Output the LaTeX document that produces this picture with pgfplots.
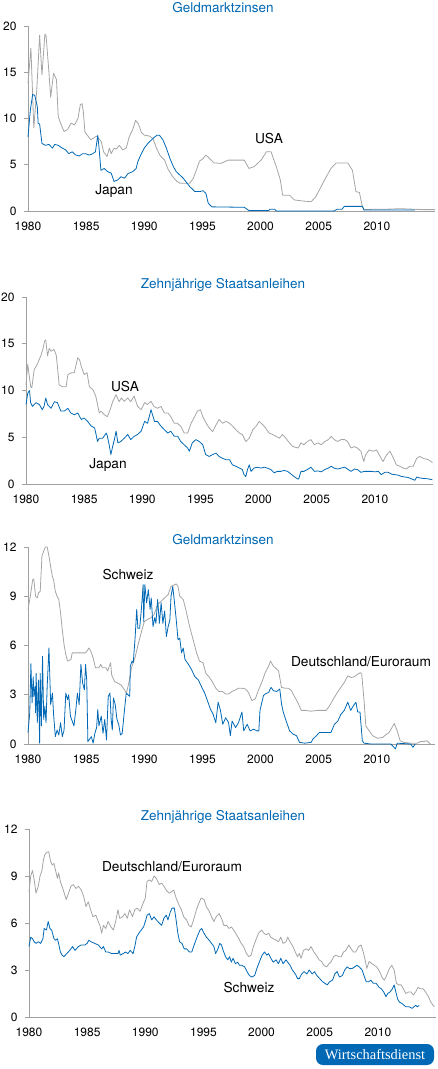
\documentclass[border=0pt]{standalone}
\usepackage{pgfplots}
\pgfplotsset{compat=1.18}
\usepackage{fontspec}
\setmainfont{TeX Gyre Heros}
\newfontfamily\logofont{Liberation Serif}
\definecolor{wdblue}{RGB}{0,104,180}
\definecolor{lgray}{RGB}{165,165,165}
\definecolor{axgray}{RGB}{160,160,160}
\pgfplotsset{panel/.style={
  scale only axis, width=407pt, xmin=1980, xmax=2015,
  axis lines=left, axis line style={-, draw=axgray, line width=0.7pt},
  xtick={1980,1985,...,2010},
  xticklabel style={/pgf/number format/1000 sep=, yshift=-3pt},
  yticklabel style={xshift=-4pt},
  tick label style={font=\fontsize{12}{13}\selectfont, text=black},
  xtick style={draw=none}, ytick style={draw=axgray, line width=0.7pt},
  tick align=outside, major tick length=4pt,
  clip=false, /pgf/number format/assume math mode=true,
  every axis plot/.append style={line width=0.8pt, line join=round}
}}
\tikzset{lbl/.style={font=\fontsize{13.7}{15}\selectfont, text=black},
  ttl/.style={font=\fontsize{13.5}{15}\selectfont, text=wdblue}}
\begin{document}
\begin{tikzpicture}
\path[use as bounding box] (0pt,0pt) rectangle (438pt,-1069pt);
% ---------------- Panel 1
\node[ttl] at (223pt,-8pt) {Geldmarktzinsen};
\begin{axis}[panel, at={(28pt,-211pt)}, anchor=south west, height=185pt,
  ymin=0, ymax=20, ytick={0,5,10,15,20}]
\addplot[lgray] coordinates {(1980.0,13.8)(1980.25,17.6)(1980.5,9.0)(1980.75,13)(1981.0,19.0)(1981.2,14.7)(1981.45,19.1)(1981.55,19.0)(1981.8,15)(1981.95,12.3)(1982.2,14.9)(1982.45,14.2)(1982.6,10.2)(1982.8,9.5)(1983.1,8.6)(1983.4,8.8)(1983.7,9.5)(1984.0,9.3)(1984.3,10.0)(1984.5,11.5)(1984.65,11.6)(1984.75,10.8)(1984.9,8.5)(1985.1,8.2)(1985.4,7.7)(1985.9,8.1)(1986.3,7.5)(1986.5,6.4)(1986.8,5.9)(1987.0,6.8)(1987.15,6.2)(1987.4,6.8)(1987.6,6.7)(1987.85,7.1)(1988.15,6.6)(1988.45,6.8)(1988.7,8.0)(1989.0,8.8)(1989.25,9.8)(1989.5,9.4)(1989.75,8.5)(1990.0,8.2)(1990.45,8.1)(1990.75,7.8)(1991.05,6.8)(1991.35,6.0)(1991.75,5.5)(1992.05,4.5)(1992.3,4.0)(1992.45,3.7)(1992.8,3.2)(1993.1,3.0)(1993.5,3.0)(1993.9,3.0)(1994.2,3.5)(1994.5,4.5)(1994.75,5.4)(1995.0,5.6)(1995.3,6.05)(1996.0,5.2)(1996.6,5.15)(1997.2,5.5)(1997.75,5.5)(1998.6,5.5)(1999.0,4.6)(1999.45,4.8)(2000.05,5.5)(2000.5,6.4)(2000.9,6.4)(2001.35,4.8)(2001.7,3.35)(2001.9,1.7)(2002.5,1.7)(2002.9,1.2)(2003.5,1.1)(2004.35,1.0)(2004.75,1.55)(2005.5,3.35)(2006.05,4.6)(2006.5,5.2)(2007.5,5.2)(2007.9,4.4)(2008.2,2.1)(2008.5,2.0)(2008.75,0.5)(2008.9,0.15)(2010,0.2)(2011,0.2)(2012,0.25)(2013,0.2)(2014,0.15)(2015,0.15)};
\addplot[wdblue] coordinates {(1980.0,8.0)(1980.2,10.9)(1980.4,12.6)(1980.58,12.5)(1980.8,11.3)(1980.87,9.5)(1981.0,9.4)(1981.2,7.3)(1981.5,7.1)(1981.8,7.2)(1982.1,6.8)(1982.3,7.2)(1982.6,7.1)(1982.95,6.8)(1983.25,6.6)(1983.5,6.2)(1983.8,6.4)(1984.1,6.05)(1984.4,5.95)(1984.7,6.2)(1984.95,6.2)(1985.25,6.05)(1985.5,6.15)(1985.8,6.4)(1986.0,8.2)(1986.1,6.95)(1986.27,4.4)(1986.55,4.6)(1986.85,4.25)(1987.15,4.1)(1987.4,3.2)(1987.7,3.35)(1988.0,3.7)(1988.3,3.55)(1988.6,4.05)(1989.0,4.25)(1989.3,4.6)(1989.45,5.35)(1989.75,6.2)(1990.0,6.8)(1990.3,7.3)(1990.75,7.85)(1991.1,8.2)(1991.3,8.2)(1991.6,7.7)(1991.9,6.8)(1992.2,5.7)(1992.5,4.8)(1992.75,4.25)(1993.05,3.9)(1993.35,3.55)(1993.65,3.05)(1993.9,2.65)(1994.35,2.1)(1994.8,2.1)(1995.05,2.2)(1995.3,1.9)(1995.5,0.85)(1995.8,0.45)(1998.6,0.4)(1999.0,0.05)(2000.7,0.05)(2000.8,0.2)(2001.2,0.2)(2001.35,0.0)(2006.3,0.0)(2006.6,0.2)(2007.0,0.2)(2007.2,0.5)(2008.75,0.5)(2008.9,0.1)(2013.3,0.1)};
\end{axis}
\node[lbl] at (269pt,-139pt) {USA};
\node[lbl] at (114pt,-191pt) {Japan};
% ---------------- Panel 2
\node[ttl] at (223pt,-285pt) {Zehnjährige Staatsanleihen};
\begin{axis}[panel, at={(26pt,-484pt)}, anchor=south west, height=187pt,
  ymin=0, ymax=20, ytick={0,5,10,15,20}]
\addplot[lgray] coordinates {(1980.0,10.6)(1980.15,12.8)(1980.4,10.4)(1980.5,10.3)(1980.7,12.2)(1981.0,12.9)(1981.3,13.8)(1981.45,14.4)(1981.6,15.3)(1981.7,15.4)(1981.85,13.7)(1982.0,14.5)(1982.15,14.2)(1982.4,14.4)(1982.6,13.8)(1982.7,12.6)(1982.85,10.6)(1983.15,10.4)(1983.45,10.4)(1983.6,11.7)(1983.9,11.9)(1984.15,11.9)(1984.45,13.5)(1984.6,13.3)(1984.75,12.6)(1985.0,11.7)(1985.25,11.9)(1985.45,10.4)(1985.75,10.1)(1986.0,9.4)(1986.3,7.6)(1986.45,7.8)(1986.75,7.4)(1987.0,7.2)(1987.25,8.0)(1987.45,8.8)(1987.75,9.55)(1988.0,8.8)(1988.2,9.2)(1988.45,8.85)(1988.75,9.2)(1989.0,8.8)(1989.3,9.4)(1989.6,8.3)(1989.9,7.95)(1990.2,8.7)(1990.45,8.5)(1990.75,8.85)(1991.0,8.3)(1991.3,8.1)(1991.6,8.3)(1991.9,7.6)(1992.2,7.6)(1992.45,7.2)(1992.75,6.5)(1993.0,6.5)(1993.3,6.2)(1993.6,5.45)(1993.9,5.45)(1994.2,6.5)(1994.5,7.2)(1994.75,7.8)(1995.0,7.95)(1995.2,7.2)(1995.5,6.5)(1995.75,6.0)(1996.05,5.6)(1996.35,6.35)(1996.6,6.9)(1996.9,6.5)(1997.2,6.7)(1997.5,6.5)(1997.75,6.2)(1998.05,5.8)(1998.35,5.45)(1998.6,5.3)(1998.9,4.55)(1999.2,4.9)(1999.5,5.8)(1999.8,6.2)(2000.05,6.7)(2000.35,6.35)(2000.6,6.0)(2000.9,5.45)(2001.2,5.3)(2001.5,5.1)(2001.8,4.9)(2002.05,5.3)(2002.35,4.9)(2002.65,4.4)(2002.95,4.0)(2003.4,3.85)(2003.65,4.4)(2003.9,4.2)(2004.2,4.55)(2004.5,4.75)(2004.8,4.2)(2005.1,4.4)(2005.4,4.2)(2005.7,4.55)(2006.0,4.75)(2006.25,5.1)(2006.5,4.75)(2006.8,4.55)(2007.1,4.75)(2007.4,4.75)(2007.65,4.55)(2007.95,3.85)(2008.25,4.0)(2008.5,3.85)(2008.8,3.5)(2009.05,2.4)(2009.2,3.1)(2009.5,3.65)(2009.85,3.5)(2010.15,3.65)(2010.45,2.95)(2010.7,2.4)(2011.0,3.1)(2011.3,3.5)(2011.6,2.75)(2011.85,2.05)(2012.15,1.9)(2012.45,1.7)(2012.7,1.6)(2013.0,1.9)(2013.3,1.9)(2013.6,2.75)(2013.85,2.95)(2014.15,2.75)(2014.6,2.6)(2014.95,2.3)};
\addplot[wdblue] coordinates {(1980.0,8.5)(1980.15,9.7)(1980.3,10.0)(1980.4,8.7)(1980.55,8.3)(1980.85,8.7)(1981.15,8.5)(1981.4,7.95)(1981.55,8.3)(1981.7,9.2)(1981.85,8.5)(1982.15,8.1)(1982.45,8.8)(1982.7,8.7)(1983.0,7.8)(1983.3,7.8)(1983.6,8.1)(1983.85,7.6)(1984.15,7.4)(1984.45,7.6)(1984.75,6.9)(1985.0,7.05)(1985.3,6.7)(1985.6,6.2)(1985.9,6.0)(1986.0,5.45)(1986.15,4.55)(1986.3,4.9)(1986.6,4.9)(1986.9,5.45)(1987.0,5.1)(1987.15,4.2)(1987.3,3.15)(1987.45,4.0)(1987.6,4.75)(1987.75,5.65)(1987.9,4.4)(1988.15,4.55)(1988.45,4.9)(1988.75,5.3)(1989.0,4.75)(1989.3,5.1)(1989.6,5.3)(1989.9,5.65)(1990.2,6.7)(1990.45,6.5)(1990.6,7.2)(1990.75,7.95)(1991.05,6.7)(1991.3,6.7)(1991.6,6.2)(1991.9,5.8)(1992.2,5.45)(1992.45,5.65)(1992.75,5.1)(1993.05,5.1)(1993.3,4.55)(1993.6,4.2)(1993.9,3.85)(1994.05,3.5)(1994.3,4.4)(1994.6,4.75)(1994.9,4.55)(1995.2,4.2)(1995.45,3.15)(1995.75,2.95)(1996.05,3.15)(1996.35,3.3)(1996.6,2.95)(1996.9,2.75)(1997.2,2.6)(1997.5,2.6)(1997.75,2.05)(1998.05,1.9)(1998.35,1.7)(1998.6,1.55)(1998.75,1.0)(1998.9,0.8)(1999.05,1.55)(1999.2,2.05)(1999.35,1.35)(1999.6,1.7)(1999.9,1.8)(2000.2,1.7)(2000.5,1.8)(2000.75,1.7)(2001.05,1.55)(2001.35,1.2)(2001.6,1.35)(2001.9,1.35)(2002.2,1.45)(2002.5,1.35)(2002.75,1.1)(2003.05,0.8)(2003.35,0.55)(2003.45,0.55)(2003.65,1.35)(2003.9,1.35)(2004.2,1.55)(2004.5,1.8)(2004.8,1.35)(2005.1,1.4)(2005.4,1.3)(2005.7,1.55)(2006.0,1.7)(2006.25,1.9)(2006.5,1.7)(2006.8,1.6)(2007.1,1.7)(2007.4,1.8)(2007.65,1.6)(2007.95,1.35)(2008.25,1.6)(2008.5,1.55)(2008.8,1.25)(2009.1,1.35)(2009.4,1.35)(2009.7,1.35)(2010.0,1.3)(2010.3,1.35)(2010.55,1.0)(2010.85,1.25)(2011.15,1.25)(2011.45,1.05)(2011.7,1.0)(2012.0,0.95)(2012.3,0.8)(2012.6,0.75)(2012.85,0.7)(2013.15,0.55)(2013.45,0.4)(2013.6,0.75)(2013.85,0.65)(2014.15,0.6)(2014.6,0.55)(2014.95,0.45)};
\end{axis}
\node[lbl] at (125pt,-386pt) {USA};
\node[lbl] at (108pt,-465pt) {Japan};
% ---------------- Panel 3
\node[ttl] at (223pt,-540pt) {Geldmarktzinsen};
\begin{axis}[panel, at={(28pt,-744pt)}, anchor=south west, height=197pt,
  ymin=0, ymax=12, ytick={0,3,6,9,12}]
\addplot[lgray] coordinates {(1980.0,8.2)(1980.2,9.0)(1980.4,10.0)(1980.5,10.05)(1980.65,9.0)(1980.8,8.9)(1980.9,9.2)(1981.05,9.3)(1981.2,11.45)(1981.35,11.75)(1981.5,12.0)(1981.65,12.0)(1981.8,11.45)(1981.95,10.8)(1982.1,10.2)(1982.2,10.0)(1982.35,9.3)(1982.5,9.0)(1982.65,8.8)(1982.8,8.0)(1982.95,6.95)(1983.1,6.05)(1983.25,5.45)(1983.4,5.05)(1983.7,5.15)(1983.8,5.55)(1984.25,5.55)(1984.7,5.55)(1984.95,5.55)(1985.25,5.85)(1985.4,5.65)(1985.6,5.25)(1985.8,4.65)(1986.1,4.65)(1986.25,4.85)(1986.4,4.65)(1986.7,4.65)(1986.85,4.45)(1987.1,4.95)(1987.2,4.2)(1987.45,3.8)(1987.75,3.7)(1988.0,3.6)(1988.3,3.3)(1988.45,3.1)(1988.6,3.5)(1988.75,4.0)(1988.9,4.65)(1989.2,5.25)(1989.5,6.15)(1989.8,6.95)(1990.0,7.45)(1990.3,7.6)(1990.6,7.7)(1990.85,7.9)(1991.15,8.5)(1991.45,8.7)(1991.75,8.9)(1992.05,9.1)(1992.3,9.6)(1992.6,9.7)(1992.75,9.75)(1992.9,9.6)(1993.05,9.0)(1993.35,8.8)(1993.6,8.1)(1993.9,7.15)(1994.2,6.35)(1994.5,5.55)(1994.75,5.05)(1995.05,4.95)(1995.3,4.3)(1995.55,4.1)(1995.85,3.8)(1996.15,3.4)(1996.4,3.2)(1996.7,3.2)(1997.0,3.05)(1997.25,3.05)(1997.55,3.2)(1997.85,3.3)(1998.1,3.4)(1998.4,3.4)(1998.7,3.35)(1998.95,3.15)(1999.25,2.65)(1999.55,2.75)(1999.8,3.25)(2000.1,3.75)(2000.4,4.35)(2000.7,4.75)(2000.85,5.05)(2001.1,4.75)(2001.55,4.45)(2001.8,3.45)(2002.1,3.4)(2002.4,3.4)(2002.65,3.25)(2002.95,2.85)(2003.25,2.45)(2003.5,2.05)(2003.8,2.05)(2004.35,2.0)(2004.95,2.05)(2005.65,2.05)(2005.95,2.35)(2006.35,2.85)(2006.8,3.35)(2007.2,3.75)(2007.5,4.15)(2007.8,4.05)(2008.05,4.1)(2008.35,4.25)(2008.6,4.35)(2008.7,4.25)(2008.9,2.65)(2009.05,1.1)(2009.35,0.8)(2009.65,0.5)(2010.05,0.35)(2010.5,0.4)(2010.75,0.55)(2011.05,0.7)(2011.3,1.0)(2011.5,1.25)(2011.75,0.8)(2012.0,0.2)(2012.3,0.1)(2012.9,0.05)(2013.45,0.05)(2013.75,0.15)(2014.05,0.15)(2014.3,0.2)(2014.6,0.0)(2014.75,-0.05)};
\addplot[wdblue] coordinates {(1980.0,0.7)(1980.15,1.9)(1980.25,4.9)(1980.35,2.5)(1980.45,4.1)(1980.5,2.9)(1980.6,3.5)(1980.65,1.9)(1980.7,4.3)(1980.8,1.3)(1980.9,3.9)(1981.0,0.05)(1981.05,4.3)(1981.15,1.1)(1981.25,5.35)(1981.35,1.5)(1981.45,2.3)(1981.55,1.3)(1981.65,3.5)(1981.8,5.85)(1981.95,2.4)(1982.1,3.1)(1982.2,1.8)(1982.35,0.45)(1982.5,0.85)(1982.65,0.55)(1982.8,1.3)(1982.95,0.45)(1983.1,0.85)(1983.25,3.1)(1983.4,2.7)(1983.5,3.0)(1983.65,1.7)(1983.8,1.4)(1983.95,1.1)(1984.1,2.0)(1984.25,3.1)(1984.4,2.4)(1984.55,4.85)(1984.7,3.7)(1984.85,3.3)(1984.95,4.85)(1985.05,3.9)(1985.15,0.15)(1985.35,0.35)(1985.45,0.45)(1985.6,0.05)(1985.75,0.65)(1985.9,1.0)(1986.0,2.1)(1986.1,1.1)(1986.3,1.7)(1986.45,0.65)(1986.6,1.5)(1986.75,0.25)(1986.9,2.9)(1987.05,3.1)(1987.15,1.5)(1987.25,0.85)(1987.35,2.8)(1987.5,2.4)(1987.65,1.5)(1987.8,1.2)(1987.95,0.55)(1988.1,0.65)(1988.3,2.1)(1988.45,3.1)(1988.6,3.0)(1988.75,2.9)(1988.8,4.75)(1988.95,5.05)(1989.05,4.95)(1989.2,6.35)(1989.35,8.2)(1989.45,7.05)(1989.6,7.05)(1989.75,8.2)(1989.9,9.7)(1989.95,7.45)(1990.05,9.7)(1990.2,8.6)(1990.35,9.4)(1990.5,8.2)(1990.6,8.9)(1990.75,7.15)(1990.9,7.7)(1991.0,7.35)(1991.15,8.8)(1991.3,7.35)(1991.45,8.6)(1991.6,7.35)(1991.75,8.1)(1991.9,6.55)(1992.05,7.15)(1992.2,7.55)(1992.3,9.0)(1992.45,9.6)(1992.6,8.6)(1992.75,7.55)(1992.9,6.35)(1993.05,6.45)(1993.2,5.55)(1993.35,5.85)(1993.5,5.15)(1993.8,4.85)(1994.05,4.55)(1994.35,4.1)(1994.65,3.9)(1994.95,3.45)(1995.2,3.1)(1995.45,2.6)(1995.7,2.1)(1995.9,1.85)(1996.15,1.3)(1996.35,2.55)(1996.55,2.05)(1996.75,1.2)(1997.0,1.6)(1997.25,1.3)(1997.4,0.5)(1997.55,1.4)(1997.85,1.0)(1998.1,1.3)(1998.4,1.95)(1998.55,0.8)(1998.85,1.2)(1999.1,0.8)(1999.4,0.9)(1999.7,0.8)(1999.85,0.8)(1999.95,2.05)(2000.25,2.95)(2000.4,3.05)(2000.7,3.15)(2000.9,3.45)(2001.1,3.25)(2001.4,3.2)(2001.65,3.35)(2001.8,2.45)(2001.95,1.95)(2002.25,1.3)(2002.5,0.8)(2002.8,0.6)(2003.1,0.5)(2003.35,0.1)(2003.8,0.05)(2004.35,0.1)(2004.5,0.3)(2004.8,0.5)(2005.05,0.7)(2005.5,0.7)(2006.05,0.7)(2006.35,1.2)(2006.65,1.4)(2006.9,1.8)(2007.2,2.05)(2007.5,2.55)(2007.75,2.05)(2008.0,2.35)(2008.2,2.55)(2008.35,1.95)(2008.55,1.95)(2008.75,0.2)(2008.9,0.05)(2009.5,0.0)(2011.2,0.0)(2011.6,-0.3)(2011.75,0.05)(2012.9,0.0)(2013.1,-0.2)(2013.3,0.0)};
\end{axis}
\node[lbl] at (128pt,-574pt) {Schweiz};
\node[lbl] at (361pt,-662pt) {Deutschland/Euroraum};
% ---------------- Panel 4
\node[ttl] at (223pt,-817pt) {Zehnjährige Staatsanleihen};
\begin{axis}[panel, at={(29pt,-1017pt)}, anchor=south west, height=188pt,
  ymin=0, ymax=12, ytick={0,3,6,9,12}]
\addplot[lgray] coordinates {(1980.0,8.0)(1980.15,9.0)(1980.3,9.35)(1980.45,8.75)(1980.6,7.9)(1980.8,8.35)(1980.95,9.0)(1981.1,9.3)(1981.25,10.05)(1981.35,10.35)(1981.5,10.5)(1981.7,10.55)(1981.85,9.95)(1982.0,9.7)(1982.15,9.8)(1982.3,9.3)(1982.45,8.85)(1982.55,9.2)(1982.7,8.65)(1982.95,8.1)(1983.2,7.5)(1983.4,7.9)(1983.6,8.35)(1983.8,8.45)(1984.05,8.2)(1984.25,8.35)(1984.5,8.1)(1984.7,7.7)(1984.9,7.05)(1985.1,7.35)(1985.3,6.85)(1985.5,6.4)(1985.75,6.5)(1985.95,6.1)(1986.1,5.85)(1986.25,5.35)(1986.4,5.85)(1986.6,5.65)(1986.8,6.1)(1987.05,5.75)(1987.25,5.55)(1987.45,6.1)(1987.65,6.85)(1987.8,6.3)(1988.05,6.4)(1988.25,6.6)(1988.45,6.3)(1988.65,6.85)(1988.9,6.4)(1989.1,6.85)(1989.3,6.95)(1989.55,6.75)(1989.75,7.15)(1990.0,7.6)(1990.15,8.65)(1990.35,8.75)(1990.55,8.65)(1990.75,9.0)(1990.95,8.85)(1991.2,8.45)(1991.4,8.55)(1991.6,8.35)(1991.8,8.1)(1992.05,7.9)(1992.25,8.0)(1992.45,8.1)(1992.65,7.6)(1992.9,7.15)(1993.1,6.85)(1993.3,6.4)(1993.55,6.2)(1993.75,5.85)(1993.95,5.75)(1994.15,6.2)(1994.4,6.85)(1994.6,7.25)(1994.8,7.6)(1995.05,7.5)(1995.25,7.05)(1995.5,6.75)(1995.7,6.4)(1995.9,6.1)(1996.1,6.4)(1996.35,6.6)(1996.55,6.3)(1996.75,5.85)(1997.0,5.85)(1997.2,5.65)(1997.4,5.75)(1997.6,5.55)(1997.85,5.25)(1998.05,5.0)(1998.25,4.7)(1998.45,4.5)(1998.7,4.05)(1998.9,3.85)(1999.1,3.95)(1999.3,4.5)(1999.55,5.0)(1999.75,5.35)(2000.0,5.55)(2000.2,5.35)(2000.4,5.25)(2000.6,5.35)(2000.8,5.1)(2001.0,5.0)(2001.25,4.9)(2001.45,4.8)(2001.65,5.1)(2001.85,4.7)(2002.1,4.8)(2002.25,5.1)(2002.45,4.8)(2002.7,4.5)(2002.9,4.15)(2003.1,3.85)(2003.25,4.05)(2003.4,3.75)(2003.6,4.25)(2003.85,4.35)(2004.05,4.25)(2004.25,4.5)(2004.5,4.15)(2004.7,3.95)(2004.95,3.65)(2005.15,3.55)(2005.35,3.3)(2005.6,3.2)(2005.8,3.4)(2006.0,3.55)(2006.2,3.85)(2006.4,3.95)(2006.65,3.85)(2006.85,3.85)(2007.05,4.15)(2007.25,4.25)(2007.5,4.6)(2007.7,4.35)(2007.9,4.15)(2008.1,4.15)(2008.35,4.5)(2008.55,4.6)(2008.75,4.15)(2008.9,3.65)(2009.05,3.1)(2009.25,3.55)(2009.5,3.4)(2009.7,3.3)(2009.9,3.2)(2010.15,2.9)(2010.35,2.55)(2010.55,2.35)(2010.75,2.65)(2011.0,3.1)(2011.2,3.3)(2011.4,3.0)(2011.6,2.15)(2011.8,2.05)(2012.0,2.05)(2012.2,1.8)(2012.4,1.5)(2012.65,1.6)(2012.85,1.6)(2013.05,1.4)(2013.25,1.6)(2013.45,1.9)(2013.65,1.8)(2013.9,1.8)(2014.1,1.6)(2014.35,1.3)(2014.55,0.95)(2014.85,0.65)};
\addplot[wdblue] coordinates {(1980.0,4.5)(1980.15,5.1)(1980.3,5.0)(1980.45,4.8)(1980.6,4.7)(1980.8,4.8)(1981.0,4.7)(1981.2,5.0)(1981.3,5.65)(1981.5,5.55)(1981.65,6.1)(1981.8,5.65)(1981.95,5.55)(1982.15,5.0)(1982.3,4.9)(1982.45,5.0)(1982.6,4.5)(1982.7,4.15)(1982.85,3.95)(1983.0,3.85)(1983.25,4.05)(1983.5,4.25)(1983.75,4.5)(1983.95,4.25)(1984.25,4.5)(1984.5,4.6)(1984.8,4.6)(1985.0,4.7)(1985.15,4.9)(1985.35,4.8)(1985.65,4.7)(1985.95,4.6)(1986.25,4.35)(1986.4,4.5)(1986.6,4.15)(1986.8,4.15)(1987.1,4.05)(1987.4,4.05)(1987.65,4.05)(1987.75,4.25)(1987.85,3.95)(1988.1,4.05)(1988.3,4.15)(1988.5,4.05)(1988.7,4.25)(1988.95,4.05)(1989.1,4.5)(1989.25,5.1)(1989.45,5.35)(1989.65,5.55)(1989.85,5.75)(1990.05,6.2)(1990.15,6.5)(1990.35,6.6)(1990.55,6.2)(1990.75,6.4)(1990.95,6.2)(1991.2,6.0)(1991.4,5.85)(1991.6,6.3)(1991.8,6.5)(1991.95,6.2)(1992.15,6.7)(1992.3,6.95)(1992.5,6.95)(1992.65,6.2)(1992.8,5.35)(1992.95,4.8)(1993.15,4.7)(1993.35,4.35)(1993.55,4.35)(1993.8,4.15)(1994.0,4.15)(1994.25,4.7)(1994.45,5.1)(1994.7,5.55)(1994.85,5.65)(1995.05,5.35)(1995.25,5.1)(1995.5,4.9)(1995.7,4.7)(1995.9,4.5)(1996.05,4.05)(1996.25,4.35)(1996.4,4.7)(1996.55,4.6)(1996.7,4.25)(1996.9,3.85)(1997.1,3.65)(1997.25,3.85)(1997.4,3.5)(1997.55,3.75)(1997.75,3.4)(1997.95,3.5)(1998.1,3.3)(1998.3,3.3)(1998.55,3.2)(1998.75,2.9)(1998.95,2.65)(1999.15,2.55)(1999.4,2.65)(1999.6,3.1)(1999.8,3.5)(2000.05,3.95)(2000.25,4.15)(2000.45,3.95)(2000.6,4.05)(2000.8,3.75)(2001.0,3.5)(2001.25,3.65)(2001.45,3.4)(2001.65,3.75)(2001.85,3.4)(2002.1,3.65)(2002.25,3.5)(2002.45,3.3)(2002.65,3.0)(2002.9,2.75)(2003.1,2.45)(2003.25,2.45)(2003.45,2.75)(2003.65,2.9)(2003.9,2.75)(2004.1,3.0)(2004.35,2.75)(2004.55,2.9)(2004.75,2.65)(2005.0,2.45)(2005.25,2.25)(2005.45,2.15)(2005.65,2.05)(2005.85,2.25)(2006.1,2.35)(2006.3,2.75)(2006.5,2.9)(2006.7,2.55)(2006.95,2.65)(2007.15,3.0)(2007.35,3.2)(2007.55,3.1)(2007.8,3.1)(2008.0,3.2)(2008.2,3.3)(2008.4,3.2)(2008.65,3.0)(2008.85,2.55)(2009.0,2.25)(2009.2,2.25)(2009.4,2.35)(2009.6,2.15)(2009.85,2.15)(2010.1,1.9)(2010.3,1.8)(2010.5,1.6)(2010.7,1.3)(2010.85,1.5)(2011.05,1.6)(2011.25,1.8)(2011.4,2.05)(2011.55,1.6)(2011.7,1.15)(2011.85,0.95)(2012.1,0.85)(2012.4,0.65)(2012.7,0.65)(2012.95,0.55)(2013.1,0.65)(2013.25,0.75)(2013.4,0.65)(2013.55,0.75)};
\end{axis}
\node[lbl] at (172pt,-867pt) {Deutschland/Euroraum};
\node[lbl] at (249pt,-987pt) {Schweiz};
% logo
\node[fill=wdblue, rounded corners=7pt, minimum width=118pt, minimum height=21pt, inner sep=0pt, text=white, font=\logofont\fontsize{14.4}{15}\selectfont] at (375pt,-1054.5pt) {Wirtschaftsdienst};
\end{tikzpicture}
\end{document}
